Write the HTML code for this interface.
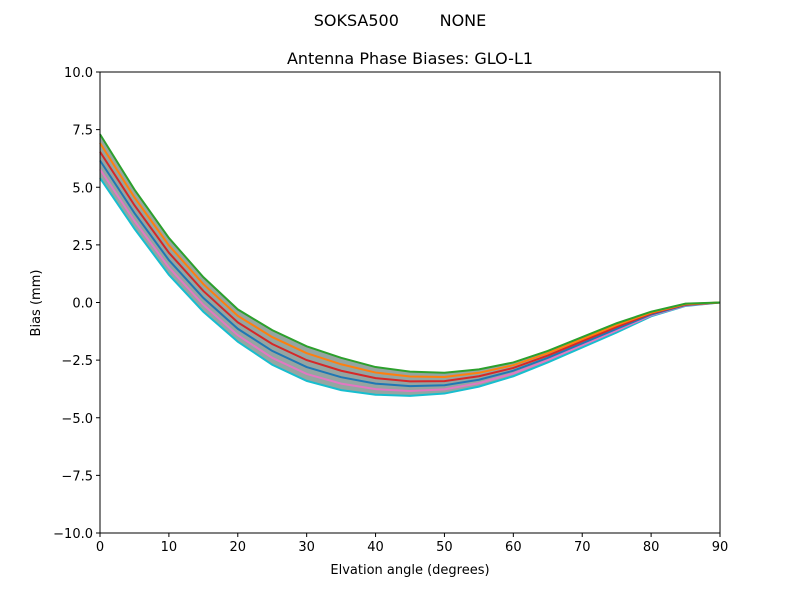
<!DOCTYPE html>
<html><head><meta charset="utf-8">
<style>
html,body{margin:0;padding:0;background:#fff;}
svg{display:block;font-family:"DejaVu Sans","Liberation Sans",sans-serif;}
</style></head>
<body>
<svg id="chart" width="800" height="600" viewBox="0 0 800 600">
  <text x="400" y="26" text-anchor="middle" font-size="16" xml:space="preserve">SOKSA500        NONE</text>
  <text x="410" y="64" text-anchor="middle" font-size="16">Antenna Phase Biases: GLO-L1</text>
  <g id="plot"></g>
  <g id="axes"></g>
  <text x="410" y="574" text-anchor="middle" font-size="13">Elvation angle (degrees)</text>
  <text x="40" y="303" text-anchor="middle" font-size="13" transform="rotate(-90 40 303)">Bias (mm)</text>
</svg>
<script>
const elevations = [0,5,10,15,20,25,30,35,40,45,50,55,60,65,70,75,80,85,90];
const series1 = [5.4,3.2,1.2,-0.4,-1.7,-2.7,-3.4,-3.8,-4.0,-4.05,-3.95,-3.65,-3.2,-2.6,-1.95,-1.3,-0.6,-0.15,0];
const series2 = [5.78,3.54,1.52,-0.1,-1.42,-2.4,-3.1,-3.52,-3.76,-3.84,-3.77,-3.5,-3.08,-2.5,-1.86,-1.22,-0.56,-0.13,0];
const series3 = [6.16,3.88,1.84,0.2,-1.14,-2.1,-2.8,-3.24,-3.52,-3.63,-3.59,-3.35,-2.96,-2.4,-1.77,-1.14,-0.52,-0.11,0];
const series4 = [6.54,4.22,2.16,0.5,-0.86,-1.8,-2.5,-2.96,-3.28,-3.42,-3.41,-3.2,-2.84,-2.3,-1.68,-1.06,-0.48,-0.09,0];
const series5 = [6.92,4.56,2.48,0.8,-0.58,-1.5,-2.2,-2.68,-3.04,-3.21,-3.23,-3.05,-2.72,-2.2,-1.59,-0.98,-0.44,-0.07,0];
const series6 = [7.3,4.9,2.8,1.1,-0.3,-1.2,-1.9,-2.4,-2.8,-3.0,-3.05,-2.9,-2.6,-2.1,-1.5,-0.9,-0.4,-0.05,0];
const xTicks = [0,10,20,30,40,50,60,70,80,90];
const yTicks = [-10,-7.5,-5,-2.5,0,2.5,5,7.5,10];
const yTickLabels = ["\u221210.0","\u22127.5","\u22125.0","\u22122.5","0.0","2.5","5.0","7.5","10.0"];

const X0=100,X1=720,Y0=533,Y1=72;
const xs=v=>X0+(v-0)/90*(X1-X0);
const ys=v=>Y0-(v+10)/20*(Y0-Y1);
const NS="http://www.w3.org/2000/svg";
const plot=document.getElementById('plot');
const axes=document.getElementById('axes');

const allSeries=[series1,series2,series3,series4,series5,series6];
const colors=["#17becf","#e377c2","#1f77b4","#d62728","#ff7f0e","#2ca02c"];

let pts=elevations.map((e,i)=>xs(e)+','+ys(series1[i]));
pts=pts.concat(elevations.map((e,i)=>xs(e)+','+ys(series6[i])).reverse());
const band=document.createElementNS(NS,'polygon');
band.setAttribute('points',pts.join(' '));
band.setAttribute('fill','#7a8f8a');
band.setAttribute('opacity','0.8');


plot.appendChild(band);

allSeries.forEach((s,k)=>{
  const p=document.createElementNS(NS,'polyline');
  p.setAttribute('points',elevations.map((e,i)=>xs(e)+','+ys(s[i])).join(' '));
  p.setAttribute('fill','none');
  p.setAttribute('stroke',colors[k]);
  p.setAttribute('stroke-width','2');
  
  
  plot.appendChild(p);
});

const frame=document.createElementNS(NS,'rect');
frame.setAttribute('x',X0);frame.setAttribute('y',Y1);
frame.setAttribute('width',X1-X0);frame.setAttribute('height',Y0-Y1);
frame.setAttribute('fill','none');frame.setAttribute('stroke','#000');frame.setAttribute('stroke-width','1');


axes.appendChild(frame);

xTicks.forEach(t=>{
  const l=document.createElementNS(NS,'line');
  l.setAttribute('x1',xs(t));l.setAttribute('x2',xs(t));l.setAttribute('y1',Y0);l.setAttribute('y2',Y0+4);
  l.setAttribute('stroke','#000');
  
  
  axes.appendChild(l);
  const tx=document.createElementNS(NS,'text');
  tx.setAttribute('x',xs(t));tx.setAttribute('y',Y0+18);tx.setAttribute('text-anchor','middle');tx.setAttribute('font-size','13');
  tx.textContent=t;
  
  
  axes.appendChild(tx);
});
yTicks.forEach((t,i)=>{
  const l=document.createElementNS(NS,'line');
  l.setAttribute('x1',X0-4);l.setAttribute('x2',X0);l.setAttribute('y1',ys(t));l.setAttribute('y2',ys(t));
  l.setAttribute('stroke','#000');
  
  
  axes.appendChild(l);
  const tx=document.createElementNS(NS,'text');
  tx.setAttribute('x',X0-7);tx.setAttribute('y',ys(t)+5);tx.setAttribute('text-anchor','end');tx.setAttribute('font-size','13');
  tx.textContent=yTickLabels[i];
  
  
  axes.appendChild(tx);
});
</script>
</body></html>
